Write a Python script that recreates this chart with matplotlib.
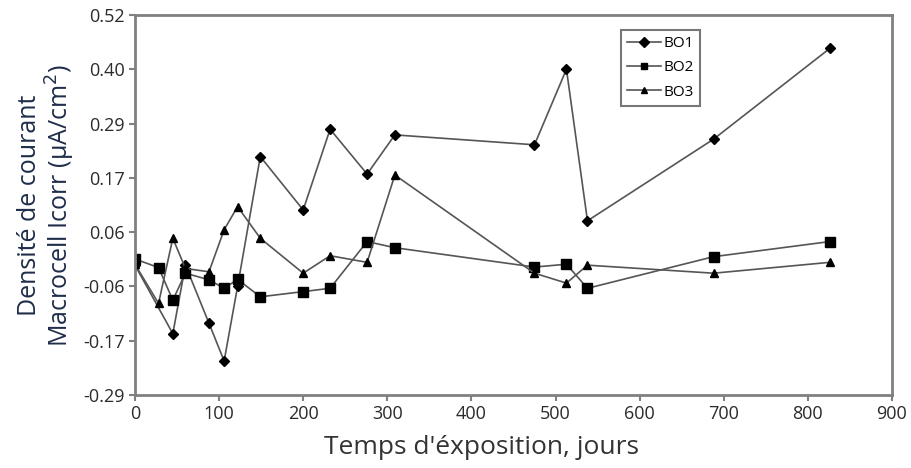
import numpy as np
import matplotlib
matplotlib.use("Agg")
import matplotlib.pyplot as plt

plt.rcParams["font.family"] = ["Open Sans", "DejaVu Sans"]

# exposure time (days) and macrocell current density (uA/cm2)
days_bo1 = [0, 45, 60, 88, 106, 122, 149, 200, 232, 276, 309, 475, 513, 538, 688, 826]
bo1 = [-0.01, -0.155, -0.01, -0.133, -0.213, -0.055, 0.22, 0.107, 0.278, 0.183, 0.266,
       0.245, 0.405, 0.084, 0.257, 0.449]

days_bo2 = [0, 28, 45, 60, 88, 106, 122, 149, 200, 232, 276, 309, 475, 513, 538, 688, 826]
bo2 = [0.003, -0.015, -0.084, -0.027, -0.041, -0.059, -0.040, -0.077, -0.066, -0.059,
       0.040, 0.027, -0.014, -0.008, -0.059, 0.008, 0.040]

days_bo3 = [0, 28, 45, 60, 88, 106, 122, 149, 200, 232, 276, 309, 475, 513, 538, 688, 826]
bo3 = [-0.008, -0.091, 0.047, -0.017, -0.024, 0.065, 0.114, 0.047, -0.027, 0.010,
       -0.004, 0.181, -0.027, -0.048, -0.010, -0.027, -0.004]

ytick_vals = [-0.285, -0.17, -0.055, 0.06, 0.175, 0.29, 0.405, 0.52]
ytick_labels = ["-0.29", "-0.17", "-0.06", "0.06", "0.17", "0.29", "0.40", "0.52"]
xtick_vals = [0, 100, 200, 300, 400, 500, 600, 700, 800, 900]

fig = plt.figure(figsize=(9.12, 4.68), dpi=100)
ax = fig.add_axes([0.148, 0.156, 0.830, 0.812])

line_col = "#555555"
ax.plot(days_bo1, bo1, color=line_col, lw=1.2, marker="D", ms=5,
        mfc="black", mec="black", label="BO1")
ax.plot(days_bo2, bo2, color=line_col, lw=1.2, marker="s", ms=7,
        mfc="black", mec="black", label="BO2")
ax.plot(days_bo3, bo3, color=line_col, lw=1.2, marker="^", ms=6,
        mfc="black", mec="black", label="BO3")

ax.set_xlim(0, 900)
ax.set_ylim(-0.285, 0.52)
ax.set_xticks(xtick_vals)
ax.set_yticks(ytick_vals)
ax.set_yticklabels(ytick_labels)

for s in ax.spines.values():
    s.set_color("#808080")
    s.set_linewidth(2)
ax.tick_params(axis="both", colors="#808080", length=4, width=1.5,
               labelsize=13, labelcolor="#2b2b2b")

ax.set_xlabel("Temps d'éxposition, jours", fontsize=19, color="#333333", labelpad=6)
ax.xaxis.set_label_coords(0.458, -0.105)
ax.set_ylabel("Densité de courant\nMacrocell Icorr (µA/cm$^2$)", fontsize=18,
              color="#1f2d4a", labelpad=4, linespacing=1.1)

leg = ax.legend(loc="upper left", bbox_to_anchor=(0.642, 0.96), frameon=True,
                fancybox=False, fontsize=11, handlelength=2.2, borderpad=0.4,
                labelspacing=0.6, handletextpad=0.2, borderaxespad=0)
leg.get_frame().set_edgecolor("#555555")
leg.get_frame().set_linewidth(1.5)
for h in leg.legend_handles:
    h.set_markersize(5)

fig.savefig("out.png", dpi=100)
